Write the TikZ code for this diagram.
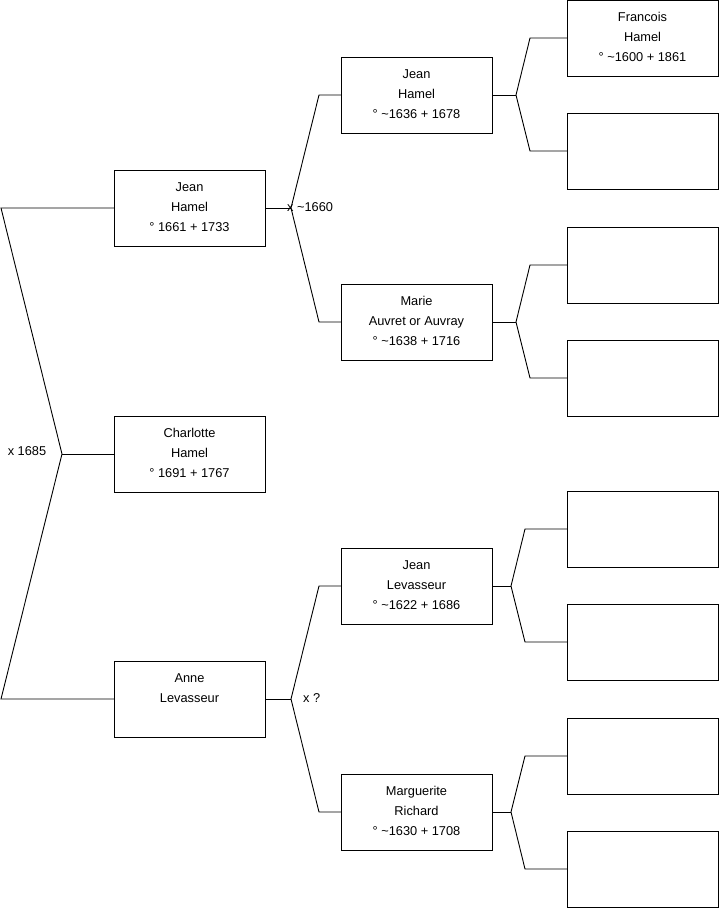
\documentclass[tikz,border=0pt]{standalone}
\usepackage{fontspec}
\setmainfont{Liberation Sans}
\newcommand\lnstrut{\rule[-6.5pt]{0pt}{20pt}}
\newcommand\tl{\textasciitilde}
\begin{document}
\begin{tikzpicture}[x=1pt,y=-1pt,
  person/.style={draw=black, line width=0.9pt, minimum width=151pt, minimum height=76pt,
    inner sep=0pt, outer sep=0pt, align=center, font=\fontsize{12.8}{20}\selectfont},
  conn/.style={draw=black, line width=0.9pt},
  lbl/.style={font=\fontsize{12.8}{15}\selectfont, inner sep=0pt}]
\useasboundingbox (0,0) rectangle (719,908);
% generation 1
\node[person] (j1) at (189.5,208) {\lnstrut Jean\\\lnstrut Hamel\\\lnstrut ° 1661 + 1733};
\node[person] (c1) at (189.5,454) {\lnstrut Charlotte\\\lnstrut Hamel\\\lnstrut ° 1691 + 1767};
\node[person] (a1) at (189.5,699) {\lnstrut Anne\\\lnstrut Levasseur\\\lnstrut};
% generation 2
\node[person] (j2) at (416.5,95) {\lnstrut Jean\\\lnstrut Hamel\\\lnstrut ° \tl1636 + 1678};
\node[person] (m2) at (416.5,322) {\lnstrut Marie\\\lnstrut Auvret or Auvray\\\lnstrut ° \tl1638 + 1716};
\node[person] (l2) at (416.5,586) {\lnstrut Jean\\\lnstrut Levasseur\\\lnstrut ° \tl1622 + 1686};
\node[person] (r2) at (416.5,812) {\lnstrut Marguerite\\\lnstrut Richard\\\lnstrut ° \tl1630 + 1708};
% generation 3
\node[person] (g1) at (642.5,38) {\lnstrut Francois\\\lnstrut Hamel\\\lnstrut ° \tl1600 + 1861};
\node[person] (g2) at (642.5,151) {};
\node[person] (g3) at (642.5,265) {};
\node[person] (g4) at (642.5,378) {};
\node[person] (g5) at (642.5,529) {};
\node[person] (g6) at (642.5,642) {};
\node[person] (g7) at (642.5,756) {};
\node[person] (g8) at (642.5,869) {};
% coordinates
\coordinate (L1) at (1,208);
\coordinate (L2) at (1,699);
\coordinate (F0) at (62,454);
\coordinate (F1) at (291,208);
\coordinate (F1a) at (319,95);
\coordinate (F1b) at (319,322);
\coordinate (F2) at (291,699);
\coordinate (F2a) at (319,586);
\coordinate (F2b) at (319,812);
\coordinate (H1) at (516,95);
\coordinate (H1a) at (530,38);
\coordinate (H1b) at (530,151);
\coordinate (H2) at (516,322);
\coordinate (H2a) at (530,265);
\coordinate (H2b) at (530,378);
\coordinate (H3) at (511,586);
\coordinate (H3a) at (525,529);
\coordinate (H3b) at (525,642);
\coordinate (H4) at (511,812);
\coordinate (H4a) at (525,756);
\coordinate (H4b) at (525,869);
% connectors
\draw[conn] (j1.west) -- (L1) -- (F0) -- (L2) -- (a1.west);
\draw[conn] (F0) -- (c1.west);
\draw[conn] (j1.east) -- (F1);
\draw[conn] (j2.west) -- (F1a) -- (F1) -- (F1b) -- (m2.west);
\draw[conn] (a1.east) -- (F2);
\draw[conn] (l2.west) -- (F2a) -- (F2) -- (F2b) -- (r2.west);
\draw[conn] (j2.east) -- (H1);
\draw[conn] (g1.west) -- (H1a) -- (H1) -- (H1b) -- (g2.west);
\draw[conn] (m2.east) -- (H2);
\draw[conn] (g3.west) -- (H2a) -- (H2) -- (H2b) -- (g4.west);
\draw[conn] (l2.east) -- (H3);
\draw[conn] (g5.west) -- (H3a) -- (H3) -- (H3b) -- (g6.west);
\draw[conn] (r2.east) -- (H4);
\draw[conn] (g7.west) -- (H4a) -- (H4) -- (H4b) -- (g8.west);
% labels
\node[lbl] (m0) at (27,451) {x 1685};
\node[lbl, anchor=west] (m1) at (287,207) {x \tl1660};
\node[lbl, anchor=west] (m3) at (303,698) {x ?};
\end{tikzpicture}
\end{document}
